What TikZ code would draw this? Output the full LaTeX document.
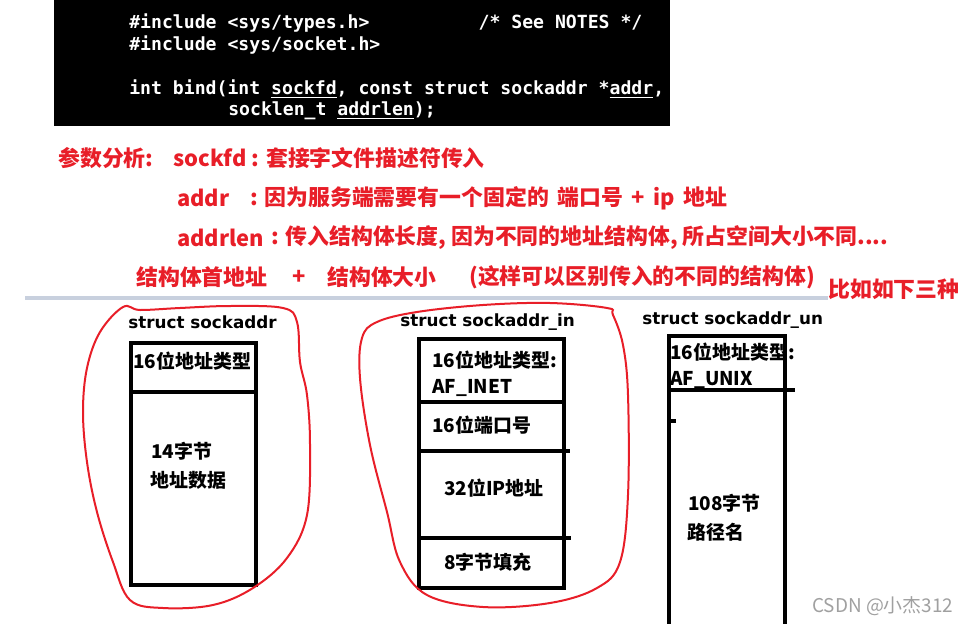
\documentclass[tikz,border=0pt]{standalone}
\usepackage{fontspec}
\newfontfamily\cjk{Noto Sans CJK SC}
\newfontfamily\monof{DejaVu Sans Mono}
\newfontfamily\dvs{DejaVu Sans}
\definecolor{mred}{RGB}{232,30,40}
\definecolor{sepgray}{RGB}{200,208,222}
\definecolor{wmgray}{RGB}{160,160,160}
\begin{document}
\begin{tikzpicture}[x=0.75pt,y=-0.75pt,
  code/.style={anchor=west,inner sep=0,text=white,font=\monof\bfseries\fontsize{13.6}{16}\selectfont},
  rtext/.style={anchor=west,inner sep=0,text=mred,font=\cjk\bfseries\fontsize{16.4}{19}\selectfont},
  btext/.style={anchor=west,inner sep=0,font=\cjk\bfseries\fontsize{14.2}{17}\selectfont},
  stitle/.style={anchor=west,inner sep=0,font=\dvs\bfseries\fontsize{12.6}{15}\selectfont},
  boxline/.style={line width=3pt},
  loopline/.style={draw=mred,line width=1.5pt}]
\useasboundingbox[fill=white] (0,0) rectangle (974,624);
% code block
\fill[black] (54,0) rectangle (670,126);
\node[code] (c1) at (129,23) {\#include <sys/types.h>\ \ \ \ \ \ \ \ \ \ /* See NOTES */};
\node[code] (c2) at (129,45) {\#include <sys/socket.h>};
\node[code] (c3) at (129,89) {int bind(int \underline{sockfd}, const struct sockaddr *\underline{addr},};
\node[code] (c4) at (228,111) {socklen\_t \underline{addrlen});};
% red explanation
\node[rtext] (r1a) at (58,158) {参数分析:};
\node[rtext] (r1b) at (173,158) {sockfd : 套接字文件描述符传入};
\node[rtext] (r2a) at (177,198) {addr};
\node[rtext] (r2b) at (250,198) {: 因为服务端需要有一个固定的 \,端口号 \,+ \,ip \,地址};
\node[rtext] (r3a) at (177,238) {addrlen};
\node[rtext] (r3b) at (271,238) {: 传入结构体长度, 因为不同的地址结构体, 所占空间大小不同....};
\node[rtext] (r4a) at (136,277) {结构体首地址};
\node[rtext] (r4b) at (292,277) {+};
\node[rtext] (r4c) at (327,277) {结构体大小};
\node[rtext] (r4d) at (469,277) {(这样可以区别传入的不同的结构体)};
\draw[sepgray,line width=3pt] (25,298) -- (828,298);
\node[rtext] (r5) at (828,289) {比如如下三种};
% struct sockaddr
\node[stitle] (t1) at (128,322) {struct sockaddr};
\draw[boxline] (131,343) rectangle (256,585);
\draw[boxline] (133,392) -- (256,392);
\node[btext] (b1a) at (133,361) {16位地址类型};
\node[btext] (b1b) at (151,451) {14字节};
\node[btext] (b1c) at (150,480) {地址数据};
\draw[loopline] plot[smooth cycle,tension=0.6] coordinates {(123,307) (100,332) (87,368) (83,412) (87,462) (97,512) (113,562) (130,600) (163,608) (213,605) (253,588) (287,558) (307,515) (310,445) (307,395) (300,362) (297,322) (283,308) (230,306) (180,308) (140,310)};
% struct sockaddr_in
\node[stitle] (t2) at (400,322) {struct sockaddr\_in};
\draw[boxline] (419,339) rectangle (564,588);
\draw[boxline] (419,402) -- (564,402);
\draw[boxline] (419,451) -- (570,451);
\draw[boxline] (419,538) -- (571,538);
\node[btext] (b2a) at (432,360) {16位地址类型:};
\node[btext] (b2b) at (432,388) {AF\_INET};
\node[btext] (b2c) at (432,425) {16位端口号};
\node[btext] (b2d) at (444,488) {32位IP地址};
\node[btext] (b2e) at (444,562) {8字节填充};
\draw[loopline] plot[smooth cycle,tension=0.6] coordinates {(607,308) (550,303) (483,305) (417,312) (377,322) (362,338) (360,378) (370,445) (387,512) (400,562) (427,595) (483,607) (550,603) (597,588) (620,562) (628,495) (628,395) (623,345) (613,315)};
% struct sockaddr_un
\node[stitle] (t3) at (642,320) {struct sockaddr\_un};
\draw[boxline] (669,628) -- (669,336) -- (785,336) -- (785,628);
\draw[boxline] (669,390) -- (795,390);
\draw[line width=2.5pt] (670,421) -- (676,421);
\node[btext] (b3a) at (670,352) {16位地址类型:};
\node[btext] (b3b) at (670,380) {AF\_UNIX};
\node[btext] (b3c) at (688,503) {108字节};
\node[btext] (b3d) at (687,532) {路径名};
% watermark
\node[anchor=west,inner sep=0,text=wmgray,font=\cjk\fontsize{14.2}{16}\selectfont] (wm) at (812,606) {CSDN @小杰312};
\end{tikzpicture}
\end{document}
